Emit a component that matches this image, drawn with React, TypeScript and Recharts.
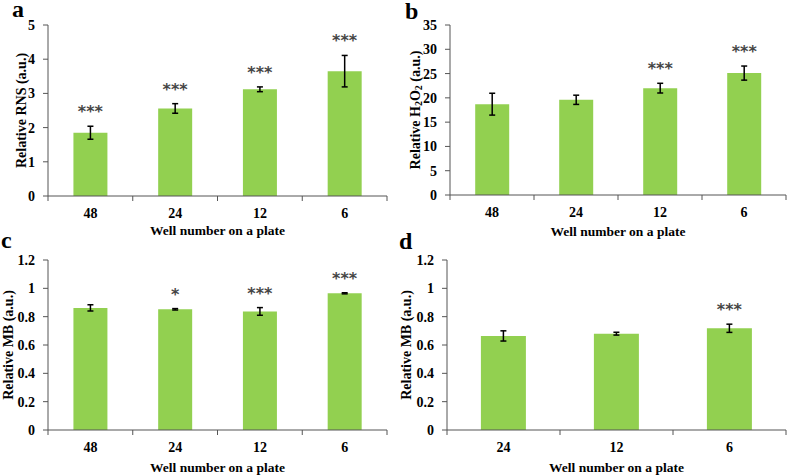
import React from 'react';
import { BarChart, Bar, XAxis, YAxis, ErrorBar } from 'recharts';

const wellsABC = ['48', '24', '12', '6'];
const wellsD = ['24', '12', '6'];

const rnsMean = [1.85, 2.56, 3.12, 3.65];
const rnsErr = [0.19, 0.14, 0.07, 0.46];
const rnsSig = ['***', '***', '***', '***'];

const h2o2Mean = [18.7, 19.6, 22.0, 25.1];
const h2o2Err = [2.25, 0.95, 1.0, 1.45];
const h2o2Sig = ['', '', '***', '***'];

const mbCMean = [0.862, 0.852, 0.837, 0.965];
const mbCErr = [0.022, 0.005, 0.027, 0.004];
const mbCSig = ['', '*', '***', '***'];

const mbDMean = [0.664, 0.68, 0.718];
const mbDErr = [0.036, 0.01, 0.029];
const mbDSig = ['', '', '***'];

const ticksRNS = [0, 1, 2, 3, 4, 5];
const ticksH2O2 = [0, 5, 10, 15, 20, 25, 30, 35];
const ticksMB = [0, 0.2, 0.4, 0.6, 0.8, 1, 1.2];

const SERIF = '"Liberation Serif", "Times New Roman", serif';
const AX = '#555555';
const GREEN = '#92D050';

type PanelProps = {
  left: number; top: number; width: number; height: number;
  plotLeft: number; plotTop: number; plotRight: number; plotBottom: number;
  cats: string[]; means: number[]; errs: number[]; sigs: string[];
  ticks: number[]; yLabel: React.ReactNode; yLabelX: number; xTitleY: number;
};

const XTick = (props: any) => {
  const { x, payload, index, axisY, bw, n } = props;
  const cx = Number(x);
  return (
    <g>
      <line x1={cx - bw / 2} x2={cx - bw / 2} y1={axisY} y2={axisY + 5} stroke={AX} strokeWidth={1} />
      {index === n - 1 && (
        <line x1={cx + bw / 2} x2={cx + bw / 2} y1={axisY} y2={axisY + 5} stroke={AX} strokeWidth={1} />
      )}
      <text x={cx} y={axisY + 22} textAnchor="middle" fontSize={14} fontWeight="bold" fontFamily={SERIF} fill="#000">
        {payload.value}
      </text>
    </g>
  );
};

function Panel(p: PanelProps) {
  const data = p.cats.map((c, i) => ({ cat: c, v: p.means[i], err: p.errs[i] }));
  const mTop = p.plotTop - p.top;
  const mRight = p.left + p.width - p.plotRight;
  const yW = p.plotLeft - p.left;
  const xH = p.top + p.height - p.plotBottom;
  const axisY = p.plotBottom - p.top;
  const plotW = p.plotRight - p.plotLeft;
  const bw = plotW / p.cats.length;
  const cy = (p.plotTop + p.plotBottom) / 2 - p.top;
  const lx = p.yLabelX - p.left;
  const cx = (p.plotLeft + p.plotRight) / 2 - p.left;
  const ty = p.xTitleY - p.top;

  const sigLabel = (props: any) => {
    const { x, y, width, height, index } = props;
    const s = p.sigs[index];
    if (!s) return null;
    const val = p.means[index];
    const ppu = Number(height) / val;
    const errTop = Number(y) - p.errs[index] * ppu;
    return (
      <text x={Number(x) + Number(width) / 2} y={errTop - 9} textAnchor="middle" fontSize={16} fontWeight="bold"
        fontFamily='"DejaVu Sans", sans-serif' fill="#454545">
        {s}
      </text>
    );
  };

  return (
    <div style={{ position: 'absolute', left: p.left, top: p.top, width: p.width, height: p.height }}>
      <BarChart width={p.width} height={p.height} data={data}
        margin={{ top: mTop, right: mRight, bottom: 0, left: 0 }} barCategoryGap="30%">
        <XAxis dataKey="cat" height={xH} axisLine={{ stroke: AX, strokeWidth: 1 }} tickLine={false}
          interval={0}
          tick={<XTick axisY={axisY} bw={bw} n={p.cats.length} />}
          label={{
            value: 'x',
            content: () => (
              <text x={cx} y={ty + 4.5}
                textAnchor="middle" fontSize={13.5} fontWeight="bold" fontFamily={SERIF} fill="#000">
                Well number on a plate
              </text>
            ),
          }}
        />
        <YAxis width={yW} domain={[p.ticks[0], p.ticks[p.ticks.length - 1]]} ticks={p.ticks}
          interval={0} allowDataOverflow
          axisLine={{ stroke: AX, strokeWidth: 1 }} tickLine={{ stroke: AX }} tickSize={5} tickMargin={8}
          tickFormatter={(v: number) => String(Math.round(v * 10) / 10)}
          tick={{ fontSize: 14, fontWeight: 'bold', fontFamily: SERIF, fill: '#000' }}
          label={{
            value: 'y',
            content: () => (
              <text x={lx} y={cy} transform={`rotate(-90, ${lx}, ${cy})`} textAnchor="middle"
                dominantBaseline="central" fontSize={14} fontWeight="bold" fontFamily={SERIF} fill="#000">
                {p.yLabel}
              </text>
            ),
          }}
        />
        <Bar dataKey="v" fill={GREEN} isAnimationActive={false} label={sigLabel}>
          <ErrorBar dataKey="err" width={3} strokeWidth={1.5} stroke="#000" isAnimationActive={false} />
        </Bar>
      </BarChart>
    </div>
  );
}

const letterStyle = { fontSize: 24, fontWeight: 'bold' as const, fontFamily: SERIF, fill: '#000' };

export default function App() {
  return (
    <div style={{ position: 'absolute', left: 0, top: 0, width: 787, height: 475, background: '#fff' }}>
      <Panel left={0} top={0} width={390} height={240} plotLeft={48} plotTop={25} plotRight={387} plotBottom={196}
        cats={wellsABC} means={rnsMean} errs={rnsErr} sigs={rnsSig} ticks={ticksRNS}
        yLabel="Relative RNS (a.u.)" yLabelX={21} xTitleY={230} />
      <Panel left={390} top={0} width={397} height={240} plotLeft={450} plotTop={25} plotRight={786} plotBottom={195}
        cats={wellsABC} means={h2o2Mean} errs={h2o2Err} sigs={h2o2Sig} ticks={ticksH2O2}
        yLabel={<>
          <tspan>Relative H</tspan>
          <tspan dy={3} fontSize={10}>2</tspan>
          <tspan dy={-3}>O</tspan>
          <tspan dy={3} fontSize={10}>2</tspan>
          <tspan dy={-3}> (a.u.)</tspan>
        </>} yLabelX={415} xTitleY={231} />
      <Panel left={0} top={240} width={390} height={235} plotLeft={48} plotTop={260} plotRight={387} plotBottom={430}
        cats={wellsABC} means={mbCMean} errs={mbCErr} sigs={mbCSig} ticks={ticksMB}
        yLabel="Relative MB (a.u.)" yLabelX={8} xTitleY={467} />
      <Panel left={390} top={240} width={397} height={235} plotLeft={447} plotTop={260} plotRight={786} plotBottom={430}
        cats={wellsD} means={mbDMean} errs={mbDErr} sigs={mbDSig} ticks={ticksMB}
        yLabel="Relative MB (a.u.)" yLabelX={406} xTitleY={467} />
      <svg width={787} height={475} style={{ position: 'absolute', left: 0, top: 0, pointerEvents: 'none' }}>
        <text x={12} y={17} {...letterStyle}>a</text>
        <text x={405} y={19} {...letterStyle}>b</text>
        <text x={1} y={248} {...letterStyle}>c</text>
        <text x={399} y={249} {...letterStyle}>d</text>
      </svg>
    </div>
  );
}
